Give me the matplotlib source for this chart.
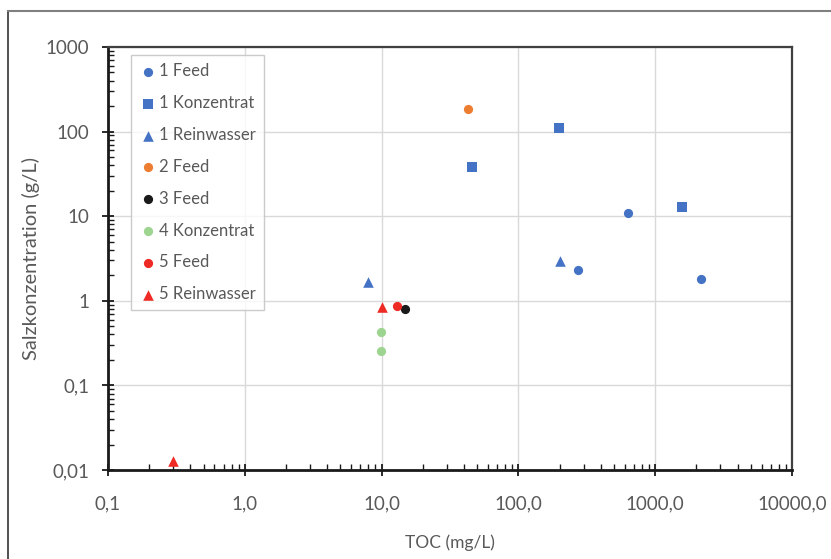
import matplotlib
matplotlib.use("Agg")
import matplotlib.pyplot as plt
from matplotlib.ticker import LogLocator, FixedLocator, FixedFormatter, NullFormatter
from matplotlib.lines import Line2D

plt.rcParams['font.family'] = ['Lato', 'DejaVu Sans']

# ---- data ----
feed1_x = [272, 632, 2160]
feed1_y = [2.3, 11.0, 1.8]
konz1_x = [46, 198, 1570]
konz1_y = [38, 110, 12.9]
rein1_x = [8.0, 200]
rein1_y = [1.65, 2.95]
feed2_x = [42.5]
feed2_y = [183]
feed3_x = [14.8]
feed3_y = [0.79]
konz4_x = [9.95, 9.95]
konz4_y = [0.43, 0.257]
feed5_x = [12.9]
feed5_y = [0.86]
rein5_x = [0.30, 10.0]
rein5_y = [0.0128, 0.85]

x_ticks = [0.1, 1, 10, 100, 1000, 10000]
x_labels = ["0,1", "1,0", "10,0", "100,0", "1000,0", "10000,0"]
y_ticks = [0.01, 0.1, 1, 10, 100, 1000]
y_labels = ["0,01", "0,1", "1", "10", "100", "1000"]

series = [
    ("1 Feed", feed1_x, feed1_y, "o", "#4472C4", 44),
    ("1 Konzentrat", konz1_x, konz1_y, "s", "#4472C4", 44),
    ("1 Reinwasser", rein1_x, rein1_y, "^", "#4472C4", 58),
    ("2 Feed", feed2_x, feed2_y, "o", "#ED7D31", 44),
    ("3 Feed", feed3_x, feed3_y, "o", "#1A1A1A", 44),
    ("4 Konzentrat", konz4_x, konz4_y, "o", "#9DD48F", 44),
    ("5 Feed", feed5_x, feed5_y, "o", "#EE2A24", 44),
    ("5 Reinwasser", rein5_x, rein5_y, "^", "#EE2A24", 58),
]

W, H = 831, 559
fig = plt.figure(figsize=(W / 100, H / 100), dpi=100)
ax = fig.add_axes([108 / W, 1 - 470 / H, (792 - 108) / W, (470 - 47) / H])

for name, xs, ys, m, c, s in series:
    ax.scatter(xs, ys, marker=m, s=s, color=c, label=name, linewidths=0, zorder=3)

ax.set_xscale('log')
ax.set_yscale('log')
ax.set_xlim(0.1, 10000)
ax.set_ylim(0.01, 1000)

ax.xaxis.set_major_locator(FixedLocator(x_ticks))
ax.xaxis.set_major_formatter(FixedFormatter(x_labels))
ax.yaxis.set_major_locator(FixedLocator(y_ticks))
ax.yaxis.set_major_formatter(FixedFormatter(y_labels))
ax.xaxis.set_minor_locator(LogLocator(base=10, subs=range(2, 10), numticks=20))
ax.yaxis.set_minor_locator(LogLocator(base=10, subs=range(2, 10), numticks=20))
ax.xaxis.set_minor_formatter(NullFormatter())
ax.yaxis.set_minor_formatter(NullFormatter())

ax.grid(True, which='major', color='#D9D9D9', linewidth=1.0, zorder=0)
ax.set_axisbelow(True)

ax.tick_params(which='major', direction='inout', length=9, width=1.3, color='#1a1a1a',
               labelsize=13.5, labelcolor='#595959')
ax.tick_params(axis='y', which='major', pad=9)
ax.tick_params(axis='x', which='major', pad=14)
ax.tick_params(which='minor', direction='in', length=4, width=1.0, color='#1a1a1a')

for side in ['left', 'bottom']:
    ax.spines[side].set_linewidth(2.0)
    ax.spines[side].set_color('#1a1a1a')
for side in ['top', 'right']:
    ax.spines[side].set_linewidth(1.6)
    ax.spines[side].set_color('#404040')

ax.set_xlabel("TOC (mg/L)", fontsize=12.5, color='#595959', labelpad=16)
ax.set_ylabel("Salzkonzentration (g/L)", fontsize=14.5, color='#595959', labelpad=4)

leg = ax.legend(loc='upper left', bbox_to_anchor=(131 / W, 1 - 55 / H),
                bbox_transform=fig.transFigure, borderaxespad=0,
                frameon=True, fancybox=False, edgecolor='#BFBFBF',
                fontsize=12, labelspacing=0.95, handletextpad=0.2,
                handlelength=1.0, borderpad=0.5, scatterpoints=1)
leg.get_frame().set_linewidth(1.0)
for t in leg.get_texts():
    t.set_color('#595959')

# figure border
fig.add_artist(Line2D([8 / W, 8 / W], [0, 1 - 11 / H], transform=fig.transFigure,
                      color='#333333', linewidth=1.2))
fig.add_artist(Line2D([8 / W, 830 / W], [1 - 11 / H, 1 - 11 / H], transform=fig.transFigure,
                      color='#808080', linewidth=1.5))

fig.savefig("out.png", dpi=100)
